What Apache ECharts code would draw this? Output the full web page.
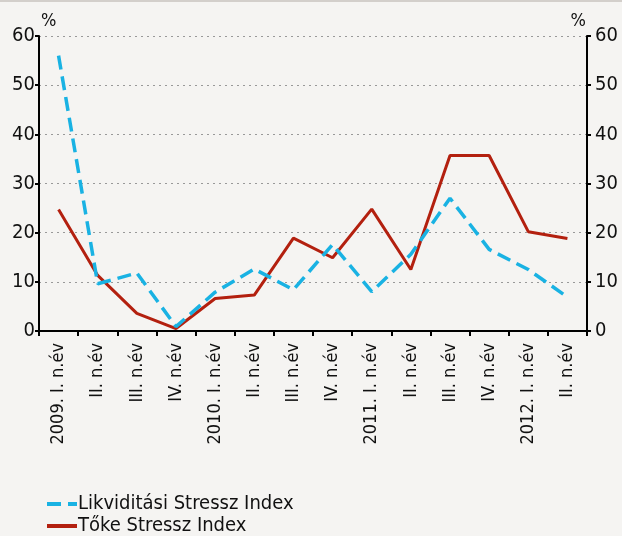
<!DOCTYPE html>
<html>
<head>
<meta charset="utf-8">
<script src="https://cdn.jsdelivr.net/npm/echarts@6/dist/echarts.min.js"></script>
<style>
  html, body { margin: 0; padding: 0; background: #f5f4f2; }
  #chart { width: 622px; height: 536px; border-top: 2px solid #d3cfcb; box-sizing: border-box; }
</style>
</head>
<body>
<div id="chart"></div>
<script>
  // categories (half-years)
  var categories = ['2009. I. n.év', 'II. n.év', 'III. n.év', 'IV. n.év',
    '2010. I. n.év', 'II. n.év', 'III. n.év', 'IV. n.év',
    '2011. I. n.év', 'II. n.év', 'III. n.év', 'IV. n.év',
    '2012. I. n.év', 'II. n.év']
  var likviditasi = [56, 9.6, 11.8, 0.9, 7.9, 12.6, 8.4, 17.6, 8.0, 15.6, 27.0, 16.6, 12.5, 6.9]
  var toke = [24.7, 11.3, 3.6, 0.5, 6.6, 7.3, 18.9, 14.9, 24.8, 12.5, 35.7, 35.7, 20.2, 18.8]
  var yTicks = [0, 10, 20, 30, 40, 50, 60]

  var font = "'Liberation Sans Narrow', 'DejaVu Sans Condensed', sans-serif"
  var chart = echarts.init(document.getElementById('chart'))

  var yAxisBase = function (pos) {
    return {
      type: 'value',
      position: pos,
      min: yTicks[0],
      max: yTicks[yTicks.length - 1],
      interval: 10,
      name: '%',
      nameLocation: 'end',
      nameGap: 6,
      nameTextStyle: {
        color: '#111', fontSize: 18, fontFamily: font,
        align: pos === 'left' ? 'left' : 'right',
        padding: pos === 'left' ? [0, 0, 0, 2] : [0, 1, 0, 0]
      },
      axisLine: { show: true, lineStyle: { color: '#000', width: 2 } },
      axisTick: { show: true, length: 4, lineStyle: { color: '#000', width: 2 } },
      axisLabel: { color: '#111', fontSize: 20, fontFamily: font, margin: pos === 'left' ? 4 : 8 },
      splitLine: { show: pos === 'left', lineStyle: { color: '#999', type: [2, 4], width: 1 } }
    }
  }

  chart.setOption({
    animation: false,
    backgroundColor: '#f5f4f2',
    grid: { left: 39, right: 35, top: 34, bottom: 205, containLabel: false },
    legend: {
      orient: 'vertical',
      left: 40,
      top: 487,
      height: 49,
      itemGap: 2,
      itemWidth: 30,
      itemHeight: 16,
      itemStyle: { opacity: 0 },
      lineStyle: { width: 4 },
      textStyle: { color: '#111', fontSize: 20, fontFamily: font, padding: [0, 0, 0, -4], lineHeight: 19 },
      data: ['Likviditási Stressz Index', 'Tőke Stressz Index']
    },
    xAxis: {
      type: 'category',
      data: categories,
      boundaryGap: true,
      axisLine: { lineStyle: { color: '#000', width: 2 } },
      axisTick: { show: true, length: 5, interval: 0, lineStyle: { color: '#000', width: 2 } },
      axisLabel: { rotate: 90, interval: 0, color: '#111', fontSize: 18, fontFamily: font, margin: 12 }
    },
    yAxis: [yAxisBase('left'), yAxisBase('right')],
    series: [{
      name: 'Likviditási Stressz Index',
      type: 'line',
      data: likviditasi,
      symbol: 'none',
      z: 3,
      itemStyle: { color: '#19b2e3' },
      lineStyle: { color: '#19b2e3', width: 3.5, type: [14, 7] }
    }, {
      name: 'Tőke Stressz Index',
      type: 'line',
      data: toke,
      symbol: 'none',
      z: 2,
      itemStyle: { color: '#b3200f' },
      lineStyle: { color: '#b3200f', width: 3 }
    }]
  })
</script>
</body>
</html>
